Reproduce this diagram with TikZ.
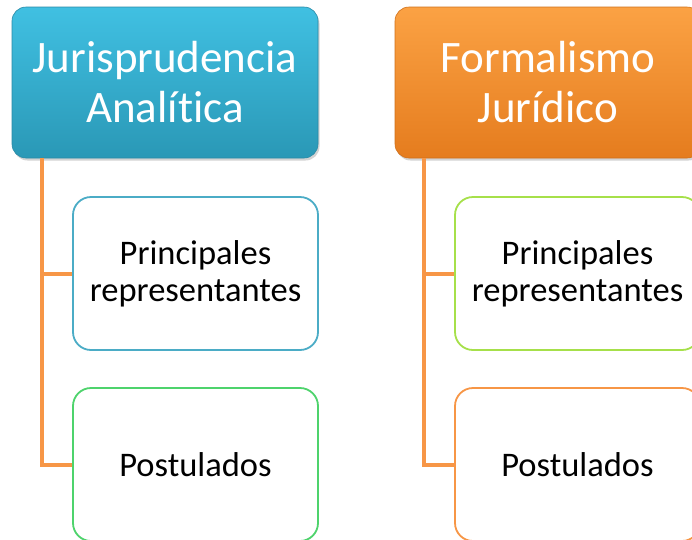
\documentclass[tikz,border=0pt]{standalone}
\usepackage{fontspec}
\setmainfont[Ligatures=NoCommon,Contextuals=NoAlternate]{Carlito}
\usetikzlibrary{shadows}
\definecolor{bluetop}{HTML}{40C0E2}
\definecolor{bluebot}{HTML}{2A98B6}
\definecolor{blueedge}{HTML}{2A8AA6}
\definecolor{orgtop}{HTML}{FBA244}
\definecolor{orgbot}{HTML}{E57C1E}
\definecolor{orgedge}{HTML}{D0701A}
\definecolor{conncol}{HTML}{F79646}
\definecolor{cblue}{HTML}{4BACC6}
\definecolor{cgreen}{HTML}{4ED36C}
\definecolor{clime}{HTML}{A6E04A}
\definecolor{corange}{HTML}{F79646}
\tikzset{
  header/.style={rectangle, rounded corners=14pt, minimum width=306pt, minimum height=151pt,
    text=white, align=center, font=\fontsize{45}{50}\selectfont, inner sep=0pt,
    drop shadow={shadow xshift=1.5pt, shadow yshift=-2.5pt, opacity=0.35}},
  child/.style={rectangle, rounded corners=18pt, minimum width=245pt, minimum height=153pt,
    draw, line width=1.8pt, fill=white, text=black, align=center,
    font=\fontsize{34.5}{37}\selectfont, inner sep=0pt},
  conn/.style={draw=conncol, line width=4pt}
}
\begin{document}
\begin{tikzpicture}[x=1pt,y=-1pt]
\useasboundingbox (0,0) rectangle (692,539);
\clip (0,0) rectangle (692,539);
% left column
\node[header, top color=bluetop, bottom color=bluebot, draw=blueedge, line width=0.6pt] (h1) at (165,82.5) {Jurisprudencia\\Analítica};
\node[child, draw=cblue] (c1) at (195.5,273.5) {Principales\\representantes};
\node[child, draw=cgreen] (c2) at (195.5,464.5) {Postulados};
\draw[conn] ([xshift=30.5pt]h1.south west) |- (c1.west);
\draw[conn] ([xshift=30.5pt]h1.south west) |- (c2.west);
% right column
\node[header, top color=orgtop, bottom color=orgbot, draw=orgedge, line width=0.6pt] (h2) at (548,82.5) {Formalismo\\Jurídico};
\node[child, draw=clime] (d1) at (577.5,273.5) {Principales\\representantes};
\node[child, draw=corange] (d2) at (577.5,464.5) {Postulados};
\draw[conn] ([xshift=29.5pt]h2.south west) |- (d1.west);
\draw[conn] ([xshift=29.5pt]h2.south west) |- (d2.west);
\end{tikzpicture}
\end{document}
